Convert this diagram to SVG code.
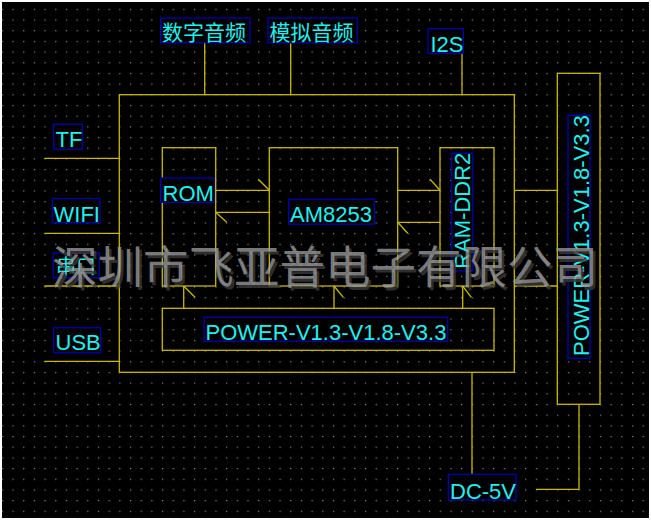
<svg xmlns="http://www.w3.org/2000/svg" width="651" height="521" viewBox="0 0 651 521">
<defs>
<pattern id="dots" patternUnits="userSpaceOnUse" x="1.8" y="8.8" width="10.68" height="10.68">
<rect x="0" y="0" width="1.2" height="1.2" fill="#8c8c8c"/>
</pattern>
<style>
.blk{fill:none;stroke:#c8b800;stroke-width:1.3}
.ln{fill:none;stroke:#c8b800;stroke-width:1.3}
.lb{fill:#000;stroke:#0000b4;stroke-width:1.3}
.t{fill:#20f0f0;font-family:"Liberation Sans",Arial,sans-serif;font-size:22px}
.tc{fill:#20f0f0;font-family:"Noto Sans CJK SC","Noto Sans",sans-serif;font-size:21px}
.wm{font-family:"Noto Sans CJK SC",sans-serif;font-size:45.5px}
</style>
</defs>
<rect x="0" y="0" width="651" height="521" fill="#ffffff"/>
<rect x="2" y="2" width="647" height="516" fill="#000000"/>
<rect x="2" y="2" width="647" height="516" fill="url(#dots)"/>

<g id="connectors">
<line class="ln" x1="204.7" y1="42.7" x2="204.7" y2="94.7"/>
<line class="ln" x1="290.7" y1="42.7" x2="290.7" y2="94.7"/>
<line class="ln" x1="462" y1="29.3" x2="462" y2="94.7"/>
<line class="ln" x1="44.3" y1="158.3" x2="119.3" y2="158.3"/>
<line class="ln" x1="44.3" y1="233.3" x2="119.3" y2="233.3"/>
<line class="ln" x1="44.3" y1="286" x2="119.3" y2="286"/>
<line class="ln" x1="44.3" y1="361.3" x2="119.3" y2="361.3"/>
<line class="ln" x1="215.7" y1="190.3" x2="269.3" y2="190.3"/>
<line class="ln" x1="258.3" y1="179.3" x2="269.3" y2="190.3"/>
<line class="ln" x1="215.7" y1="212.3" x2="269.3" y2="212.3"/>
<line class="ln" x1="215.7" y1="212.3" x2="226.7" y2="222.3"/>
<line class="ln" x1="397.7" y1="190.3" x2="440" y2="190.3"/>
<line class="ln" x1="430" y1="179.3" x2="440" y2="190.3"/>
<line class="ln" x1="397.7" y1="222.3" x2="440" y2="222.3"/>
<line class="ln" x1="397.7" y1="222.3" x2="407.7" y2="233.3"/>
<line class="ln" x1="514.3" y1="190.3" x2="557.3" y2="190.3"/>
<line class="ln" x1="514.3" y1="286" x2="557.3" y2="286"/>
<line class="ln" x1="183.7" y1="308.3" x2="183.7" y2="286"/>
<line class="ln" x1="183.7" y1="286" x2="195" y2="297.3"/>
<line class="ln" x1="334" y1="308.3" x2="334" y2="286"/>
<line class="ln" x1="334" y1="286" x2="343.3" y2="297.3"/>
<line class="ln" x1="462.7" y1="308.3" x2="462.7" y2="286"/>
<line class="ln" x1="462.7" y1="286" x2="471.3" y2="297.3"/>
<line class="ln" x1="472" y1="372.3" x2="472" y2="478.7"/>
<polyline class="ln" points="579,404.3 579,489.3 536,489.3"/>
</g>

<g id="main"><rect class="blk" x="119.3" y="94.7" width="395" height="277.6"/></g>
<g id="rom"><rect class="blk" x="162.3" y="147.7" width="53.4" height="138.3"/></g>
<g id="am8253"><rect class="blk" x="269.3" y="147.7" width="128.4" height="138.3"/></g>
<g id="ram"><rect class="blk" x="440" y="147.7" width="54" height="138.3"/></g>
<g id="power-in"><rect class="blk" x="162.3" y="308.3" width="331.7" height="42"/></g>
<g id="power-side"><rect class="blk" x="557.3" y="73.3" width="42.7" height="331"/></g>

<g id="lbl-digital"><rect class="lb" x="160.7" y="18" width="89.3" height="24.7"/><text class="tc" x="162" y="39.5">数字音频</text></g>
<g id="lbl-analog"><rect class="lb" x="268" y="18" width="89.3" height="24.7"/><text class="tc" x="269.5" y="39.5">模拟音频</text></g>
<g id="lbl-i2s"><rect class="lb" x="428" y="28.7" width="35.3" height="24.6"/><text class="t" x="430.5" y="51.7">I2S</text></g>
<g id="lbl-tf"><rect class="lb" x="53.7" y="124.3" width="28.6" height="25"/><text class="t" x="55.5" y="147.3">TF</text></g>
<g id="lbl-wifi"><rect class="lb" x="52.3" y="198.7" width="47.7" height="24"/><text class="t" x="53.5" y="221.7">WIFI</text></g>
<g id="lbl-uart"><rect class="lb" x="53.3" y="253" width="46" height="24.7"/><text class="tc" x="56" y="274.3" style="font-size:20px">串口</text></g>
<g id="lbl-usb"><rect class="lb" x="53.7" y="327.7" width="47" height="25"/><text class="t" x="55.5" y="350">USB</text></g>
<g id="lbl-rom"><rect class="lb" x="160.7" y="178" width="53.6" height="24.3"/><text class="t" x="162.5" y="201">ROM</text></g>
<g id="lbl-am8253"><rect class="lb" x="288.7" y="199.3" width="85.6" height="25"/><text class="t" x="290" y="222.3">AM8253</text></g>
<g id="lbl-ram"><rect class="lb" x="451.7" y="153.3" width="21" height="117.7"/><text class="t" transform="translate(470,268.8) rotate(-90)">RAM-DDR2</text></g>
<g id="lbl-power-in"><rect class="lb" x="204" y="317.3" width="243.7" height="24"/><text class="t" x="205.5" y="340">POWER-V1.3-V1.8-V3.3</text></g>
<g id="lbl-power-side"><rect class="lb" x="568" y="115.3" width="22" height="243"/><text class="t" transform="translate(589.3,356) rotate(-90)">POWER-V1.3-V1.8-V3.3</text></g>
<g id="lbl-dc"><rect class="lb" x="448.3" y="474.3" width="67.7" height="25.7"/><text class="t" x="450" y="498.7">DC-5V</text></g>

<g id="watermark">
<text class="wm" x="54.5" y="286.5" fill="#3a3a3a" opacity="0.8">深圳市飞亚普电子有限公司</text>
<text class="wm" x="52" y="284" fill="#a0a0a0" opacity="0.75">深圳市飞亚普电子有限公司</text>
</g>
</svg>
